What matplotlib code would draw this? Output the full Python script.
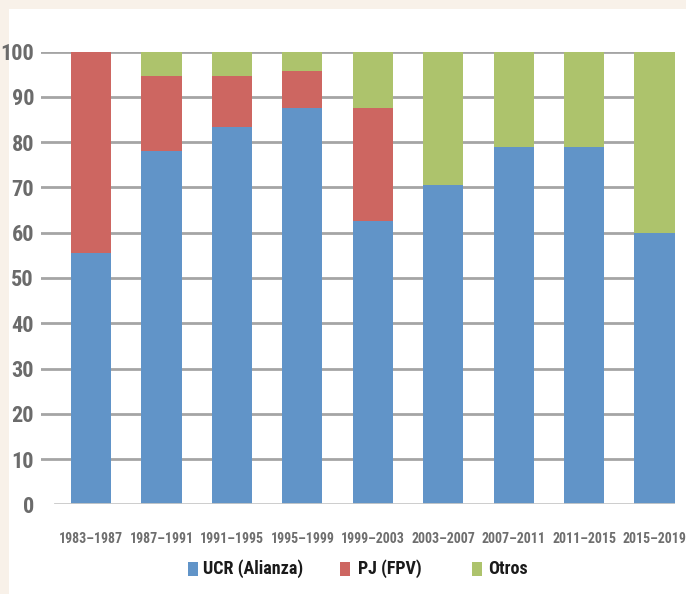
import matplotlib
matplotlib.use("Agg")
import matplotlib.pyplot as plt
from matplotlib.patches import Rectangle
from matplotlib import font_manager as fm
import numpy as np

periods = ["1983–1987", "1987–1991", "1991–1995", "1995–1999", "1999–2003",
           "2003–2007", "2007–2011", "2011–2015", "2015–2019"]
ucr = [55.6, 78.0, 83.3, 87.5, 62.5, 70.6, 79.0, 79.0, 60.0]
pj = [44.4, 16.7, 11.4, 8.3, 25.0, 0.0, 0.0, 0.0, 0.0]
otros = [0.0, 5.3, 5.3, 4.2, 12.5, 29.4, 21.0, 21.0, 40.0]
series_names = ["UCR (Alianza)", "PJ (FPV)", "Otros"]
colors = ["#6194c8", "#cd6661", "#adc36c"]
yticks = [0, 10, 20, 30, 40, 50, 60, 70, 80, 90, 100]

# pick a narrow face if one is installed
names = {f.name for f in fm.fontManager.ttflist}
stretchy = {f.name for f in fm.fontManager.ttflist
            if str(f.stretch) in ("condensed", "semi-condensed", "extra-condensed")}
font_props = {"family": ["DejaVu Sans"], "stretch": "normal"}
for cand in ["Liberation Sans Narrow", "Roboto Condensed", "Open Sans Condensed",
             "DejaVu Sans Condensed"]:
    if cand in names:
        font_props = {"family": [cand, "DejaVu Sans"], "stretch": "normal"}
        break
else:
    if "DejaVu Sans" in stretchy:
        font_props = {"family": ["DejaVu Sans"], "stretch": "condensed"}
    elif stretchy:
        font_props = {"family": [sorted(stretchy)[0], "DejaVu Sans"],
                      "stretch": "condensed"}

W, H = 686, 594
fig = plt.figure(figsize=(W / 100, H / 100), dpi=100)
fig.patch.set_facecolor("#f8f1e9")
fig.patches.append(Rectangle((9 / W, 0), 1 - 9 / W, 1 - 9 / H,
                             transform=fig.transFigure, facecolor="white",
                             edgecolor="none", zorder=-10))

ax = fig.add_axes([41 / W, (H - 504.3) / H, (675 - 41) / W, (504.3 - 51.7) / H])
ax.set_facecolor("none")
x = np.arange(len(periods))
w = 0.57
bottom = np.zeros(len(periods))
for vals, c in zip([ucr, pj, otros], colors):
    ax.bar(x, vals, w, bottom=bottom, color=c, edgecolor="none", zorder=3)
    bottom += np.array(vals)

ax.set_xlim(-0.71, 8.29)
ax.set_ylim(0, 100)
for t in yticks[1:]:
    ax.axhline(t, color="#a5a5a5", lw=2, zorder=1)
ax.axhline(0, xmin=14 / 634, color="#c9c9c9", lw=2, zorder=4)

for s in ax.spines.values():
    s.set_visible(False)
ax.set_yticks(yticks)
ax.set_yticklabels([str(t) for t in yticks], fontsize=16, fontweight="bold",
                   color="#6b6b6b", **font_props)
ax.tick_params(axis="y", length=0, pad=5)
ax.set_xticks(x)
ax.set_xticklabels(periods, fontsize=10, fontweight="bold", color="#6e6e6e",
                   **font_props)
ax.tick_params(axis="x", length=0, pad=20)

# legend drawn as colour swatches and labels
swatch_x = [188, 340, 472]
label_x = [203, 358, 488]
for sx, tx, name, c in zip(swatch_x, label_x, series_names, colors):
    fig.patches.append(Rectangle((sx / W, (H - 576) / H), 10 / W, 14 / H,
                                 transform=fig.transFigure, facecolor=c,
                                 edgecolor="none"))
    fig.text(tx / W, (H - 569) / H, name, fontsize=13, fontweight="bold",
             color="#1a1a1a", va="center", ha="left", **font_props)

fig.savefig("out.png", dpi=100, facecolor=fig.get_facecolor())
